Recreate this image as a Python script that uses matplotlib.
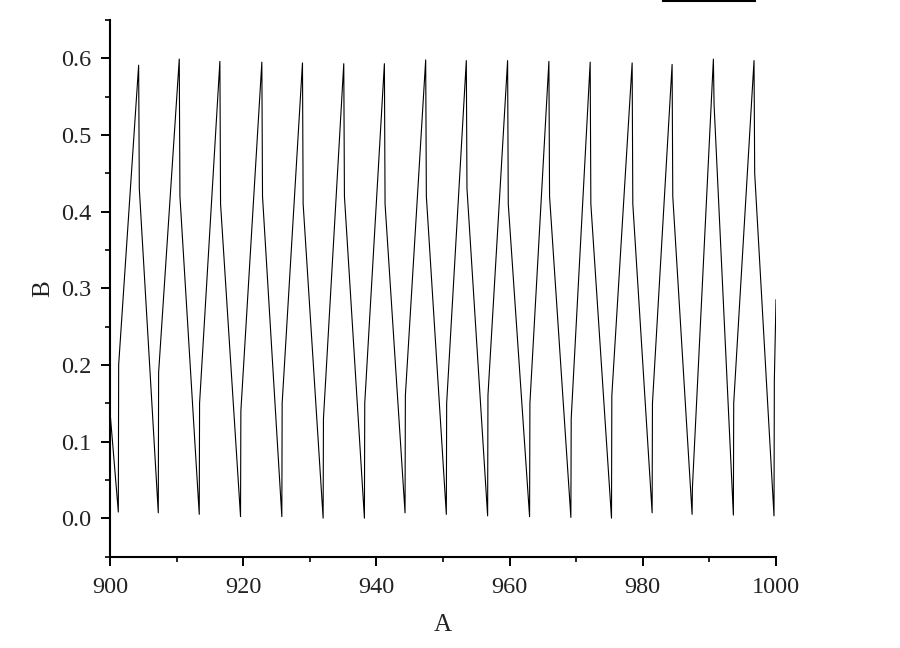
import matplotlib
matplotlib.use("Agg")
import matplotlib.pyplot as plt
from matplotlib.lines import Line2D
from matplotlib.ticker import MultipleLocator, FuncFormatter

# ---- data ----
A = [900.0,
     901.25, 901.3, 904.3, 904.4,
     907.25, 907.3, 910.4, 910.5,
     913.4, 913.45, 916.5, 916.6,
     919.6, 919.65, 922.8, 922.9,
     925.8, 925.85, 928.9, 929.0,
     932.0, 932.05, 935.1, 935.2,
     938.2, 938.25, 941.2, 941.3,
     944.3, 944.35, 947.4, 947.5,
     950.5, 950.55, 953.5, 953.6,
     956.7, 956.75, 959.7, 959.8,
     963.0, 963.05, 965.9, 966.0,
     969.2, 969.25, 972.1, 972.2,
     975.3, 975.35, 978.4, 978.5,
     981.4, 981.45, 984.4, 984.5,
     987.4, 987.45, 990.6, 990.7,
     993.6, 993.65, 996.7, 996.8,
     999.7, 999.75, 1000.0]

B = [0.139,
     0.008, 0.20, 0.591, 0.43,
     0.007, 0.19, 0.599, 0.42,
     0.005, 0.15, 0.596, 0.41,
     0.002, 0.14, 0.595, 0.42,
     0.002, 0.15, 0.594, 0.41,
     0.000, 0.13, 0.593, 0.42,
     0.000, 0.15, 0.593, 0.41,
     0.007, 0.16, 0.598, 0.42,
     0.005, 0.15, 0.597, 0.43,
     0.003, 0.16, 0.597, 0.41,
     0.002, 0.15, 0.596, 0.42,
     0.001, 0.13, 0.595, 0.41,
     0.000, 0.16, 0.594, 0.41,
     0.007, 0.15, 0.592, 0.42,
     0.005, 0.04, 0.599, 0.54,
     0.004, 0.15, 0.597, 0.45,
     0.003, 0.18, 0.285]

x_ticks = [900, 920, 940, 960, 980, 1000]
y_ticks = [0.0, 0.1, 0.2, 0.3, 0.4, 0.5, 0.6]

plt.rcParams['font.family'] = ['Liberation Serif', 'DejaVu Serif']

fig = plt.figure(figsize=(9, 6.48), dpi=100)
ax = fig.add_axes([110/900, 1 - 556.5/648, (776-110)/900, (556.5-20)/648])

ax.plot(A, B, color='black', lw=0.8)

ax.set_xlim(900, 1000)
ax.set_ylim(-0.05, 0.65)
ax.set_xticks(x_ticks)
ax.set_yticks(y_ticks)
ax.xaxis.set_minor_locator(MultipleLocator(10))
ax.yaxis.set_minor_locator(MultipleLocator(0.05))
ax.yaxis.set_major_formatter(FuncFormatter(lambda v, p: f"{v:.1f}"))

for s in ['top', 'right']:
    ax.spines[s].set_visible(False)
for s in ['left', 'bottom']:
    ax.spines[s].set_linewidth(1.5)
    ax.spines[s].set_color('black')

ax.tick_params(which='major', direction='out', length=6.5, width=1.4,
               labelsize=17.5, labelcolor='#222222')
ax.tick_params(axis='x', which='major', pad=8)
ax.tick_params(axis='y', which='major', pad=7)
ax.tick_params(which='minor', direction='out', length=3.5, width=1.2)

ax.set_xlabel('A', fontsize=18, color='#222222', labelpad=12)
ax.set_ylabel('B', fontsize=18, color='#222222', labelpad=5)

fig.add_artist(Line2D([663/900, 755/900], [1 - 1/648, 1 - 1/648],
                      transform=fig.transFigure, color='black', lw=1.5))

fig.savefig('out.png', dpi=100)
